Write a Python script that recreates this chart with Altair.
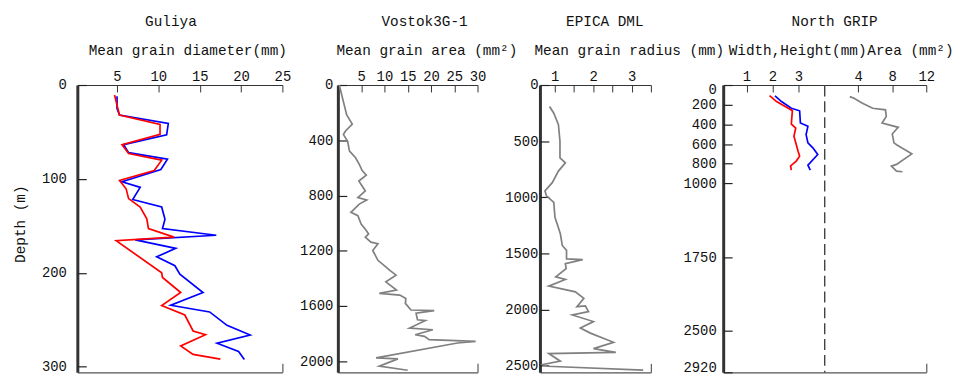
import altair as alt
import pandas as pd

FONT = "Liberation Mono"
INK = "#111111"

# ---------------- data ----------------
guliya_blue_depth = [12, 25, 32, 41, 53, 63.5, 72, 79, 90, 103, 109, 122, 130, 143, 153, 160, 165, 174, 183, 192.5, 201.5, 221, 234.6, 241.7, 256, 266.3, 275, 283.8, 292.4]
guliya_blue_diam = [5.0, 5.0, 5.3, 11.2, 11.0, 5.8, 6.4, 11.1, 10.3, 5.6, 7.8, 6.9, 10.4, 10.8, 10.5, 17.0, 7.2, 12.1, 9.8, 12.0, 12.6, 15.4, 11.5, 16.2, 18.3, 21.1, 17.1, 19.7, 20.4]
guliya_red_depth = [10.7, 25, 32, 42, 52.5, 63.5, 73, 80, 91, 101.6, 110.6, 121, 130, 142.6, 153, 162, 165.8, 200, 205, 221, 235, 245, 262, 266, 278, 287, 292]
guliya_red_diam = [4.7, 5.1, 5.3, 10.2, 10.2, 5.6, 6.4, 10.4, 9.5, 5.3, 6.1, 6.4, 7.8, 8.6, 8.8, 11.9, 4.9, 10.4, 10.5, 12.7, 10.4, 13.2, 14.2, 15.7, 12.7, 14.2, 17.5]

vostok_depth = [0, 216, 283, 335, 359, 407, 479, 527, 575, 618, 652, 695, 767, 815, 833, 862, 922, 946, 1006, 1054, 1078, 1102, 1138, 1149, 1198, 1269, 1317, 1341, 1377, 1425, 1485, 1509, 1521, 1545, 1581, 1629, 1634, 1652, 1700, 1706, 1760, 1772, 1808, 1820, 1844, 1856, 1868, 1976, 1983, 2036, 2065]
vostok_area = [0.3, 1.9, 3.1, 1.6, 1.2, 2.1, 2.5, 3.8, 4.6, 5.2, 6.1, 4.5, 5.9, 4.3, 6.2, 4.6, 2.8, 4.3, 5.0, 6.1, 6.6, 5.9, 7.1, 8.6, 7.5, 8.6, 10.3, 11.1, 12.5, 10.3, 12.6, 8.9, 13.3, 14.6, 14.5, 15.7, 20.7, 16.8, 17.1, 18.8, 15.4, 20.4, 16.6, 18.6, 19.6, 29.6, 25.7, 8.2, 12.9, 8.9, 15.0]

epica_depth = [192, 251, 354, 501, 649, 693, 767, 870, 943, 988, 1046, 1179, 1326, 1430, 1474, 1550, 1556, 1592, 1636, 1710, 1733, 1792, 1843, 1901, 1975, 1969, 2019, 2049, 2108, 2166, 2211, 2293, 2349, 2382, 2393, 2461, 2491, 2506, 2541]
epica_radius = [0.87, 0.98, 1.10, 1.14, 1.14, 1.28, 1.10, 0.94, 0.75, 0.79, 0.98, 1.01, 1.15, 1.20, 1.31, 1.31, 1.73, 1.28, 1.30, 1.03, 1.28, 0.85, 1.54, 1.76, 1.58, 1.80, 1.88, 1.46, 2.01, 1.67, 1.93, 2.53, 2.01, 2.59, 0.85, 1.15, 0.70, 0.81, 3.30]

ngrip_height_depth = [111, 168, 236, 262, 386, 420, 504, 588, 638, 706, 814, 865]
ngrip_height = [2.10, 2.35, 2.73, 3.05, 3.08, 3.37, 3.30, 3.37, 3.56, 3.75, 3.37, 3.46]
ngrip_width_depth = [108, 168, 236, 262, 397, 437, 521, 605, 673, 723, 773, 823, 865]
ngrip_width = [1.89, 2.16, 2.61, 2.77, 2.73, 2.90, 2.83, 2.92, 2.99, 3.05, 2.92, 2.70, 2.73]
ngrip_area_depth = [118, 135, 185, 236, 252, 319, 386, 430, 497, 588, 612, 700, 807, 824, 875, 882]
ngrip_area = [3.0, 3.5, 4.5, 5.7, 7.2, 7.3, 6.8, 8.7, 8.0, 8.2, 8.6, 10.3, 8.5, 7.9, 8.5, 9.2]

W = 857   # whole plotting strip, Guliya left edge to North GRIP right edge
H = 290


def df_of(depths, vals):
    return pd.DataFrame({"i": list(range(len(depths))), "depth": depths, "v": vals})


def panel_layers(series, xdom, xrange, ydom, x_labels, x_ticks, x_end_tick,
                 y_labels, y_label_pad, xtitle, xtitle_x, site=None, site_x=0,
                 ytitle=None, y_axis=True, dashed_left=False, y_flush=False):
    x0 = xrange[0]
    xs = alt.Scale(domain=xdom, range=xrange, nice=False, zero=False)
    ys = alt.Scale(domain=ydom, nice=False, zero=False, reverse=True)

    ax_top = alt.Axis(orient="top", values=x_labels, ticks=False, tickSize=0,
                      domain=True, domainColor="#333333", domainWidth=1,
                      labelFont=FONT, labelFontSize=14, labelColor=INK,
                      labelPadding=2, labelFlush=False, labelOverlap=False, format="~f",
                      grid=False, title=xtitle, titleFont=FONT, titleFontSize=14.5,
                      titleFontWeight="normal", titleColor=INK, titleX=x0 + xtitle_x,
                      titleY=-35, titleAlign="left", titleBaseline="middle", titleAngle=0)
    tkw = dict(orient="top", offset=-7, values=x_ticks, ticks=True, tickSize=7,
               tickColor="#333333", tickWidth=1, domain=False, labels=False, grid=False)
    if site:
        tkw.update(title=site, titleFont=FONT, titleFontSize=14.5, titleFontWeight="normal",
                   titleColor=INK, titleX=x0 + site_x, titleY=-71, titleAlign="center",
                   titleBaseline="middle", titleAngle=0)
    else:
        tkw.update(title=None)
    ax_ticks = alt.Axis(**tkw)
    ax_bottom = alt.Axis(orient="bottom", ticks=False, labels=False, domain=True,
                         domainColor="#555555", domainWidth=1.3, grid=False, title=None)

    ax_left_ticks = None
    if y_axis:
        ykw = dict(orient="left", offset=-x0, values=y_labels, ticks=False, tickSize=0,
                   domain=True, domainColor="#333333", domainWidth=3, labelFont=FONT,
                   labelFontSize=14, labelColor=INK, labelPadding=y_label_pad,
                   labelOverlap=False, grid=False, format="d")
        if y_flush:
            ykw.update(labelFlush=True, labelFlushOffset=2)
        else:
            ykw.update(labelFlush=False)
        if ytitle:
            ykw.update(title=ytitle, titleFont=FONT, titleFontSize=14.5, titleFontWeight="normal",
                       titleColor=INK, titleX=-57, titleY=140, titleAngle=270,
                       titleAlign="center", titleBaseline="middle")
        else:
            ykw.update(title=None)
        ax_left = alt.Axis(**ykw)
        ax_left_ticks = alt.Axis(orient="left", offset=-(x0 + 9), values=y_labels, ticks=True,
                                 tickSize=9, tickColor="#222222", tickWidth=1.2, domain=False,
                                 labels=False, grid=False, title=None)
    elif dashed_left:
        ax_left = alt.Axis(orient="left", offset=-x0, ticks=False, labels=False, domain=True,
                           domainColor="#333333", domainWidth=1.3, domainDash=[11, 5],
                           grid=False, title=None)
    else:
        ax_left = None

    layers = []
    all_df = pd.concat([df_of(d, v) for d, v, _ in series], ignore_index=True)
    for k, (d, v, color) in enumerate(series):
        layers.append(
            alt.Chart(df_of(d, v)).mark_line(color=color, strokeWidth=1.7).encode(
                x=alt.X("v:Q", scale=xs, axis=ax_top if k == 0 else None),
                y=alt.Y("depth:Q", scale=ys, axis=ax_left if k == 0 else None),
                order=alt.Order("i:Q"),
            )
        )
    base = alt.Chart(all_df).mark_point(opacity=0)
    layers.append(base.encode(x=alt.X("v:Q", scale=xs, axis=ax_ticks),
                              y=alt.Y("depth:Q", scale=ys, axis=ax_left_ticks)))
    layers.append(base.encode(x=alt.X("v:Q", scale=xs, axis=ax_bottom),
                              y=alt.Y("depth:Q", scale=ys, axis=None)))
    if x_end_tick is not None:
        ax_end = alt.Axis(orient="bottom", offset=-9, values=[x_end_tick], ticks=True, tickSize=9,
                          tickColor="#666666", tickWidth=1.3, domain=False, labels=False,
                          grid=False, title=None)
        layers.append(base.encode(x=alt.X("v:Q", scale=xs, axis=ax_end),
                                  y=alt.Y("depth:Q", scale=ys, axis=None)))
    return layers


RED, BLUE, GRAY = "#ff0000", "#0000ff", "#808080"

layers = []
layers += panel_layers(
    [(guliya_blue_depth, guliya_blue_diam, BLUE), (guliya_red_depth, guliya_red_diam, RED)],
    [0.2, 25], [0, 207], [0, 306],
    [5, 10, 15, 20, 25], [5, 10, 15, 20, 25], 25,
    [0, 100, 200, 300], 11, "Mean grain diameter(mm)", 11,
    site="Guliya", site_x=94, ytitle="Depth (m)")
layers += panel_layers(
    [(vostok_depth, vostok_area, GRAY)],
    [0, 30], [263, 404], [0, 2080],
    [5, 10, 15, 20, 25, 30], [5, 10, 15, 20, 25, 30], 30,
    [0, 400, 800, 1200, 1600, 2000], 5, "Mean grain area (mm²)", -2,
    site="Vostok3G-1", site_x=87)
layers += panel_layers(
    [(epica_depth, epica_radius, GRAY)],
    [0.62, 3.5], [467, 579], [0, 2560],
    [1, 2, 3], [1, 1.5, 2, 2.5, 3, 3.5], 3.5,
    [0, 500, 1000, 1500, 2000, 2500], 2, "Mean grain radius (mm)", -6,
    site="EPICA DML", site_x=65)
layers += panel_layers(
    [(ngrip_height_depth, ngrip_height, BLUE), (ngrip_width_depth, ngrip_width, RED)],
    [0.1, 4.0], [652, 754], [0, 2920],
    [1, 2, 3], [1, 2, 3], None,
    [0, 200, 400, 600, 800, 1000, 1750, 2500, 2920], 7, "Width,Height(mm)", 5,
    site="North GRIP", site_x=112, y_flush=True)
layers += panel_layers(
    [(ngrip_area_depth, ngrip_area, GRAY)],
    [0, 12], [754, 857], [0, 2920],
    [4, 8, 12], [4, 8, 12], 12,
    None, 0, "Area (mm²)", 43, y_axis=False, dashed_left=True)

chart = alt.layer(*layers).resolve_scale(
    x="independent", y="independent"
).resolve_axis(
    x="independent", y="independent"
).properties(
    width=W, height=H,
    padding={"left": 5, "top": 4, "right": 0, "bottom": 0},
).configure_view(stroke=None)

chart.save("out.html", embed_options={"renderer": "svg", "actions": False})
